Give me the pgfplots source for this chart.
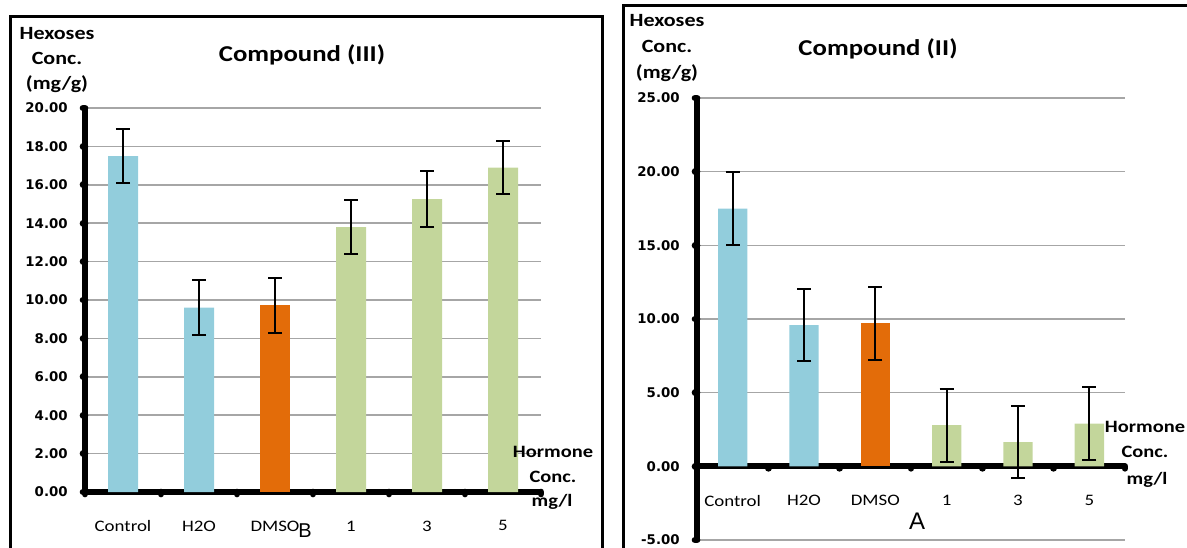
\documentclass[border=0pt]{standalone}
\usepackage{pgfplots}
\pgfplotsset{compat=1.18}
\usepackage{fontspec}
\setmainfont{Carlito}[FakeStretch=1.18]
\newfontfamily\tickfont{DejaVu Sans}
\newfontfamily\letterfont{Liberation Sans}
\definecolor{cblue}{HTML}{92CDDC}
\definecolor{corange}{HTML}{E36C09}
\definecolor{cgreen}{HTML}{C3D69B}
\definecolor{cgrid}{HTML}{A6A6A6}
\pgfplotsset{
  hexstyle/.style={
    scale only axis,
    axis y line*=left,
    xmin=0.5, xmax=6.5,
    xtick={1,2,3,4,5,6},
    xticklabels={Control,H2O,DMSO,1,3,5},
    minor xtick={0.5,1.5,...,6.5},
    ymajorgrids,
    grid style={cgrid, line width=1.1pt},
    axis line style={black, line width=4.5pt},
    major x tick style={draw=none},
    minor x tick style={black, line width=5pt, line cap=round},
    ytick style={black, line width=5pt, line cap=round},
    major tick length=1.5pt, minor tick length=1.5pt,
    tick align=outside,
    yticklabel style={font=\tickfont\fontsize{10}{12}\selectfont\bfseries, xshift=-8pt},
    xticklabel style={font=\fontsize{12}{14}\selectfont},
    /pgf/number format/.cd, fixed, fixed zerofill, precision=2, assume math mode=true,
    /pgfplots/.cd,
    ybar, bar shift=0pt,
    error bars/y dir=both, error bars/y explicit,
    error bars/error bar style={black, line width=1.5pt},
    error bars/error mark options={rotate=90, mark size=5.25pt, line width=1.5pt, black},
    clip=false,
  }
}
\begin{document}
\begin{tikzpicture}[x=0.75pt,y=-0.75pt]
\useasboundingbox (0,0) rectangle (1187,547);
% frames
\draw[line width=2.25pt] (10,16) rectangle (602,620);
\draw[line width=2.25pt] (623,5) rectangle (1220,620);

% ---------- left panel: Compound (III) ----------
\begin{axis}[hexstyle,
  at={(63.75pt,-369pt)}, anchor=south west,
  width=342pt, height=288pt,
  ymin=0, ymax=20, ytick={0,2,...,20},
  axis x line*=bottom,
  xticklabel style={yshift=-16.5pt},
  bar width=22.5pt]
\addplot[fill=cblue, draw=none] coordinates {(1,17.5) +- (0,1.43) (2,9.6) +- (0,1.43)};
\addplot[fill=corange, draw=none] coordinates {(3,9.72) +- (0,1.45)};
\addplot[fill=cgreen, draw=none] coordinates {(4,13.8) +- (0,1.4) (5,15.25) +- (0,1.45) (6,16.9) +- (0,1.4)};
\end{axis}

% ---------- right panel: Compound (II) ----------
\begin{axis}[hexstyle,
  at={(522.75pt,-405pt)}, anchor=south west,
  width=321pt, height=331.5pt,
  ymin=-5, ymax=25, ytick={-5,0,...,25},
  axis x line*=middle,
  xticklabel style={yshift=-16.5pt},
  bar width=22pt]
\addplot[fill=cblue, draw=none] coordinates {(1,17.5) +- (0,2.48) (2,9.58) +- (0,2.45)};
\addplot[fill=corange, draw=none] coordinates {(3,9.7) +- (0,2.48)};
\addplot[fill=cgreen, draw=none] coordinates {(4,2.8) +- (0,2.48) (5,1.65) +- (0,2.45) (6,2.9) +- (0,2.5)};
\end{axis}

% labels left
\node[align=center, font=\fontsize{14}{18.75}\selectfont\bfseries] at (57,60) {Hexoses\\Conc.\\(mg/g)};
\node[font=\fontsize{17}{20}\selectfont\bfseries] at (302,55) {Compound (III)};
\node[font=\fontsize{13}{16}\selectfont\bfseries] at (553,452) {Hormone};
\node[font=\fontsize{13}{16}\selectfont\bfseries] at (553,477) {Conc.};
\node[font=\fontsize{13}{16}\selectfont\bfseries] at (552,502) {mg/l};
\node[font=\letterfont\fontsize{15}{18}\selectfont] at (305,531) {B};

% labels right
\node[align=center, font=\fontsize{14}{19.5}\selectfont\bfseries] at (667,48) {Hexoses\\Conc.\\(mg/g)};
\node[font=\fontsize{17}{20}\selectfont\bfseries] at (878,49) {Compound (II)};
\node[font=\fontsize{13}{16}\selectfont\bfseries] at (1145,427) {Hormone};
\node[font=\fontsize{13}{16}\selectfont\bfseries] at (1145,452) {Conc.};
\node[font=\fontsize{13}{16}\selectfont\bfseries] at (1147,480) {mg/l};
\node[font=\letterfont\fontsize{18}{20}\selectfont] at (917,521) {A};
\end{tikzpicture}
\end{document}
